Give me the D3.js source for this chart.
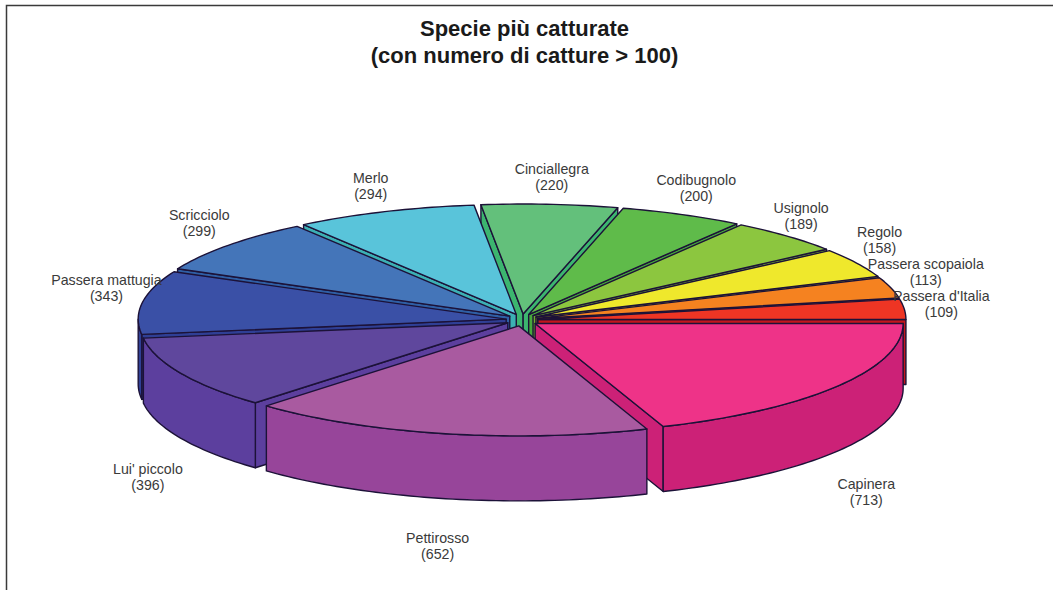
<!DOCTYPE html>
<html><head><meta charset="utf-8">
<style>html,body{margin:0;padding:0;background:#fff}svg{display:block}</style>
<script src="https://cdn.jsdelivr.net/npm/d3@7"></script></head><body>
<svg id="c" width="1053" height="590"></svg>
<script>
const categories=["Capinera","Pettirosso","Lui' piccolo","Passera mattugia","Scricciolo","Merlo","Cinciallegra","Codibugnolo","Usignolo","Regolo","Passera scopaiola","Passera d'Italia"];
const captures=[713,652,396,343,299,294,220,200,189,158,113,109];
const topColors=["#ee3388","#a95aa0","#5f479d","#3a50a6","#4475b9","#59c4da","#63c07b","#5fbb4a","#8cc63f","#efe82c","#f58220","#ee3524"];
const wallColors=["#cc2177","#97459a","#5c3f9e","#2f3f95","#2f5fa5","#3cb0b4","#3cb56f","#46a83c","#72ad30","#c4be10","#d56a10","#c4161c"];
const labelDx=[29,-8,-33,-36,-29,-14,2,14,14,23,35,37];
const labelDy=[106,112,104,-14,-22,-26,-27,-27,-20,-23,-16,-5];
const titleLines=["Specie più catturate","(con numero di catture > 100)"];

const svg=d3.select("#c");
const cx=522,cy=320,rx=368,ry=110,depth=65,ex=16,ey=6;
const X=d3.scaleLinear().domain([-1,1]).range([cx-rx,cx+rx]);
const Y=d3.scaleLinear().domain([-1,1]).range([cy-ry,cy+ry]);
const outline="#1c1238";

// frame: top and left only
svg.append("path").attr("d","M6.5,590V5.5H1053").attr("fill","none").attr("stroke","#3a3a3a").attr("stroke-width",1.5);

const pie=d3.pie().sort(null).startAngle(Math.PI/2).endAngle(Math.PI/2+2*Math.PI);
const slices=pie(captures).map((d,i)=>{
  const a0=d.startAngle-Math.PI/2,a1=d.endAngle-Math.PI/2,m=(a0+a1)/2;
  return {i,a0,a1,m,ox:ex*Math.cos(m),oy:ey*Math.sin(m)};
});
const pt=(s,a,r=1,z=0)=>[X(r*Math.cos(a))+s.ox,Y(r*Math.sin(a))+s.oy+z];
const line=d3.line();
const arcPts=(s,a,b,z=0)=>{const n=Math.max(2,Math.ceil(Math.abs(b-a)/0.02));return d3.range(n+1).map(k=>pt(s,a+(b-a)*k/n,1,z));};
const face=(g,pts,fill)=>g.append("path").attr("d",line(pts)+"Z").attr("fill",fill).attr("stroke",outline).attr("stroke-width",1.4).attr("stroke-linejoin","round");
const order=slices.slice().sort((p,q)=>Math.sin(p.m)-Math.sin(q.m));
order.forEach(s=>{
  const g=svg.append("g"),w=wallColors[s.i],apex=pt(s,0,0);
  const radial=a=>{const o=pt(s,a);face(g,[apex,o,[o[0],o[1]+depth],[apex[0],apex[1]+depth]],w);};
  if(Math.cos(s.a0)<0) radial(s.a0);
  if(Math.cos(s.a1)>0) radial(s.a1);
  const lo=Math.max(s.a0,0),hi=Math.min(s.a1,Math.PI);
  if(hi>lo){ face(g,arcPts(s,lo,hi).concat(arcPts(s,hi,lo,depth)),w); }
  face(g,[apex].concat(arcPts(s,s.a0,s.a1)),topColors[s.i]);
});
slices.forEach(s=>{
  const r=pt(s,s.m),x=r[0]+labelDx[s.i],y=r[1]+labelDy[s.i];
  const t=svg.append("text").attr("text-anchor","middle").attr("font-family","Liberation Sans").attr("font-size",14.2).attr("fill","#3a3a3a");
  t.append("tspan").attr("x",x).attr("y",y-3).text(categories[s.i]);
  t.append("tspan").attr("x",x).attr("y",y+13).text("("+captures[s.i]+")");
});
svg.selectAll(".title").data(titleLines).join("text").attr("class","title")
  .attr("x",524.5).attr("y",(d,i)=>36+i*27).attr("text-anchor","middle")
  .attr("font-family","Liberation Sans").attr("font-weight","bold").attr("font-size",22).attr("fill","#1a1a1a").text(d=>d);
</script></body></html>
